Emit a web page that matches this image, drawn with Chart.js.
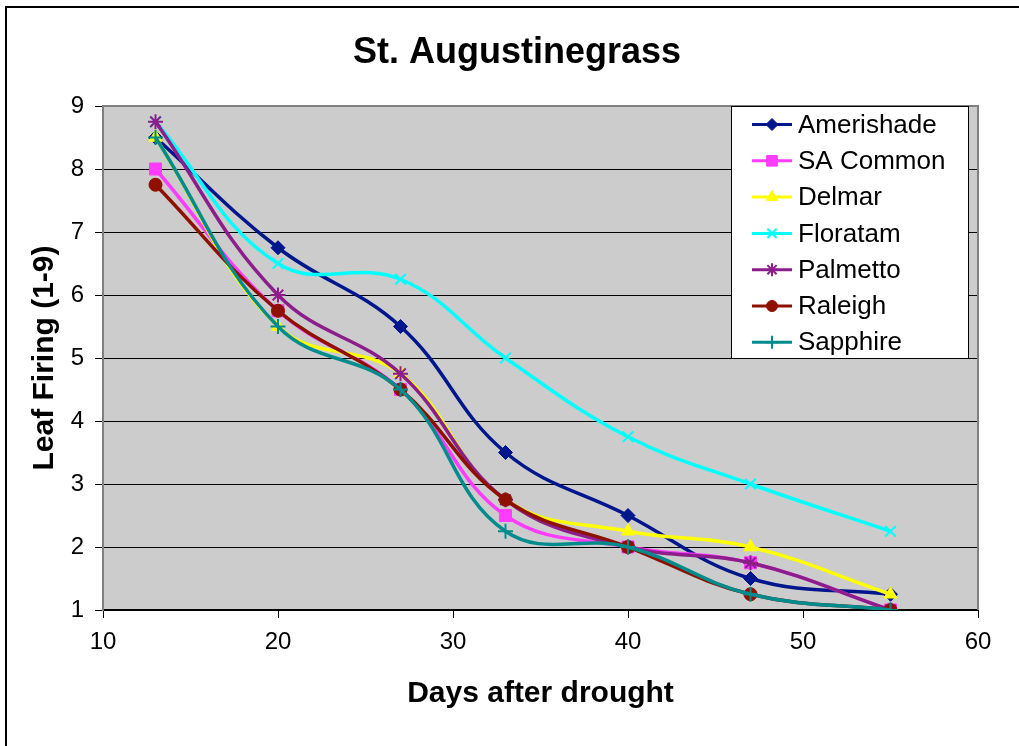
<!DOCTYPE html>
<html>
<head>
<meta charset="utf-8">
<script src="https://cdn.jsdelivr.net/npm/chart.js@4.4.1/dist/chart.umd.min.js"></script>
<style>
  html, body { margin: 0; padding: 0; background: #ffffff; }
  #wrap { width: 1019px; height: 746px; position: relative; }
</style>
</head>
<body>
<div id="wrap"><canvas id="c" width="1019" height="746"></canvas></div>
<script>
const chartTitle = 'St. Augustinegrass';
const days = [13, 20, 27, 33, 40, 47, 55];
const seriesNames = ["Amerishade", "SA Common", "Delmar", "Floratam", "Palmetto", "Raleigh", "Sapphire"];
const amerishade = [8.5, 6.75, 5.5, 3.5, 2.5, 1.5, 1.25];
const saCommon   = [8.0, 5.75, 4.5, 2.5, 2.0, 1.75, 1.0];
const delmar     = [8.5, 5.5, 4.75, 2.75, 2.25, 2.0, 1.25];
const floratam   = [8.75, 6.5, 6.25, 5.0, 3.75, 3.0, 2.25];
const palmetto   = [8.75, 6.0, 4.75, 2.75, 2.0, 1.75, 1.0];
const raleigh    = [7.75, 5.75, 4.5, 2.75, 2.0, 1.25, 1.0];
const sapphire   = [8.5, 5.5, 4.5, 2.25, 2.0, 1.25, 1.0];
const xTicks = [10, 20, 30, 40, 50, 60];
const yTicks = [1, 2, 3, 4, 5, 6, 7, 8, 9];

const seriesValues = [amerishade, saCommon, delmar, floratam, palmetto, raleigh, sapphire];
const colors = ["#00168C", "#FF3CFF", "#FFFF00", "#00FFFF", "#8C1E8C", "#8E1100", "#008C8C"];
const styles = ["rectRot", "rect", "triangle", "crossRot", "star", "circle", "cross"];
const radii = [7, 8.5, 7.5, 7.5, 7.5, 6.5, 7.5];

const FONT = "'Liberation Sans', Arial, sans-serif";

const datasets = seriesNames.map((name, i) => ({
  label: name,
  data: days.map((d, j) => ({ x: d, y: seriesValues[i][j] })),
  borderColor: colors[i],
  backgroundColor: colors[i],
  pointBackgroundColor: colors[i],
  pointBorderColor: colors[i],
  pointStyle: styles[i],
  pointRadius: radii[i],
  pointBorderWidth: (styles[i] === 'cross' || styles[i] === 'crossRot' || styles[i] === 'star') ? 2 : 1,
  borderWidth: 3.5,
  tension: 0.4,
  fill: false,
  order: seriesNames.length - i
}));

const bgPlugin = {
  id: 'bgPlugin',
  beforeDraw(chart) {
    const { ctx, chartArea: a } = chart;
    ctx.save();
    ctx.fillStyle = '#ffffff';
    ctx.fillRect(0, 0, chart.width, chart.height);
    ctx.strokeStyle = '#000000';
    ctx.lineWidth = 2;
    ctx.beginPath();
    ctx.moveTo(6, chart.height + 5);
    ctx.lineTo(6, 7);
    ctx.lineTo(chart.width + 5, 7);
    ctx.stroke();
    ctx.fillStyle = '#CCCCCC';
    ctx.fillRect(a.left, a.top, a.right - a.left, a.bottom - a.top);
    ctx.fillStyle = '#000000';
    ctx.font = 'bold 36px ' + FONT;
    ctx.textAlign = 'center';
    ctx.textBaseline = 'middle';
    ctx.fillText(chartTitle, 517, 53);
    ctx.restore();
  },
  afterDatasetsDraw(chart) {
    const { ctx, chartArea: a } = chart;
    ctx.save();
    ctx.strokeStyle = '#808080';
    ctx.lineWidth = 2;
    ctx.beginPath();
    ctx.moveTo(a.left, a.top);
    ctx.lineTo(a.right, a.top);
    ctx.lineTo(a.right, a.bottom);
    ctx.stroke();
    ctx.restore();
  }
};

const legendPlugin = {
  id: 'boxLegend',
  afterDraw(chart) {
    const { ctx } = chart;
    const left = 731, top = 106, right = 968, bottom = 358;
    ctx.save();
    ctx.fillStyle = '#ffffff';
    ctx.fillRect(left, top, right - left, bottom - top);
    ctx.strokeStyle = '#000000';
    ctx.lineWidth = 1;
    ctx.strokeRect(left + 0.5, top + 0.5, right - left, bottom - top);
    const step = 36.3;
    chart.data.datasets.forEach((ds, i) => {
      const y = 124.5 + i * step;
      ctx.strokeStyle = ds.borderColor;
      ctx.lineWidth = 3;
      ctx.beginPath();
      ctx.moveTo(752, y);
      ctx.lineTo(792, y);
      ctx.stroke();
      ctx.fillStyle = ds.borderColor;
      ctx.strokeStyle = ds.borderColor;
      ctx.lineWidth = ds.pointBorderWidth;
      Chart.helpers.drawPoint(ctx, {
        pointStyle: ds.pointStyle,
        radius: ds.pointRadius - 1,
        rotation: 0,
        borderWidth: ds.pointBorderWidth
      }, 772, y);
      ctx.fillStyle = '#000000';
      ctx.font = '26px ' + FONT;
      ctx.textAlign = 'left';
      ctx.textBaseline = 'middle';
      ctx.fillText(ds.label, 798, y + 1);
    });
    ctx.restore();
  }
};

new Chart(document.getElementById('c'), {
  type: 'line',
  data: { datasets },
  plugins: [bgPlugin, legendPlugin],
  options: {
    responsive: false,
    animation: false,
    layout: { padding: { left: 0, right: 41, top: 106, bottom: 0 } },
    plugins: {
      legend: { display: false },
      tooltip: { enabled: false },
      title: { display: false }
    },
    scales: {
      x: {
        type: 'linear',
        min: 10, max: 60,
        afterFit: (s) => { s.height = 136; },
        afterBuildTicks: (s) => { s.ticks = xTicks.map(v => ({ value: v })); },
        grid: { display: true, drawOnChartArea: false, drawTicks: true, tickLength: 8, color: '#000000', lineWidth: 1 },
        border: { display: true, color: '#000000', width: 2 },
        ticks: { color: '#000000', font: { family: FONT, size: 24 }, padding: 10, maxRotation: 0 },
        title: {
          display: true,
          text: 'Days after drought',
          color: '#000000',
          font: { family: FONT, size: 30, weight: 'bold', lineHeight: 1.2 },
          padding: { top: 0, bottom: 34 }
        }
      },
      y: {
        type: 'linear',
        min: 1, max: 9,
        afterFit: (s) => { s.width = 103; },
        afterBuildTicks: (s) => { s.ticks = yTicks.map(v => ({ value: v })); },
        grid: { display: true, drawOnChartArea: true, drawTicks: true, tickLength: 8, color: '#000000', lineWidth: 1 },
        border: { display: true, color: '#808080', width: 2 },
        ticks: { color: '#000000', font: { family: FONT, size: 24 }, padding: 11 },
        title: {
          display: true,
          text: 'Leaf Firing (1-9)',
          color: '#000000',
          font: { family: FONT, size: 30, weight: 'bold', lineHeight: 1.2 },
          padding: { top: 27, bottom: 0 }
        }
      }
    }
  }
});
</script>
</body>
</html>
